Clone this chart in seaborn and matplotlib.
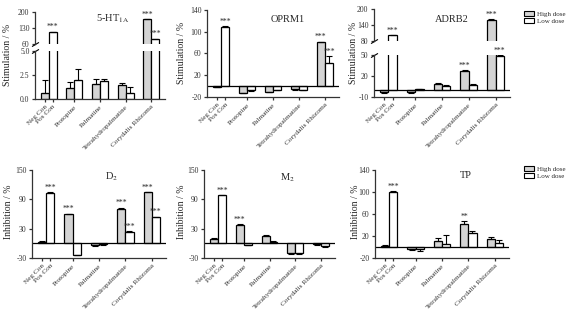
import matplotlib
matplotlib.use("Agg")
import matplotlib.pyplot as plt
from matplotlib.patches import Patch
import pandas as pd
import seaborn as sns

# categories (Control group: high = Neg Con, low = Pos Con)
groups = ["Control", "Protopine", "Palmatine", "Tetrahydropalmatine", "Corydalis Rhizoma"]
tick_labels = ["Neg Con", "Pos Con", "Protopine", "Palmatine",
               "Tetrahydropalmatine", "Corydalis Rhizoma"]
doses = ["High dose", "Low dose"]

# 5-HT1A (stimulation)
ht1a_high = [0.6, 1.1, 1.6, 1.5, 169]
ht1a_high_err = [1.4, 0.7, 0.5, 0.2, 1]
ht1a_low = [112, 2.0, 1.9, 0.6, 82]
ht1a_low_err = [2, 1.1, 0.15, 0.7, 2]
ht1a_high_sig = ["", "", "", "", "***"]
ht1a_low_sig = ["***", "", "", "", "***"]

# OPRM1 (stimulation)
oprm1_high = [-1, -12, -10, -6, 81]
oprm1_high_err = [0.5, 1, 1, 1, 1]
oprm1_low = [109, -8, -7, -7, 42]
oprm1_low_err = [1, 1, 1, 1, 13]
oprm1_high_sig = ["", "", "", "", "***"]
oprm1_low_sig = ["***", "", "", "", "***"]

# ADRB2 (stimulation)
adrb2_high = [-3, -3, 8, 27, 160]
adrb2_high_err = [1, 1, 1.5, 1.5, 1]
adrb2_low = [102, 1, 6, 7, 48]
adrb2_low_err = [1, 0.5, 1, 1, 1.5]
adrb2_high_sig = ["", "", "", "***", "***"]
adrb2_low_sig = ["***", "", "", "", "***"]

# D2 (inhibition)
d2_high = [2, 59, -3, 70, 104]
d2_high_err = [3, 1.5, 2.5, 3, 1]
d2_low = [103, -23, -2, 23, 53]
d2_low_err = [1, 1.5, 1, 1.5, 1.5]
d2_high_sig = ["", "***", "", "***", "***"]
d2_low_sig = ["***", "", "", "***", "***"]

# M2 (inhibition)
m2_high = [9, 38, 15, -19, -2]
m2_high_err = [2, 1.5, 2, 2, 1]
m2_low = [98, -3, 2, -19, -6]
m2_low_err = [1, 1, 2, 2, 1]
m2_high_sig = ["", "***", "", "", ""]
m2_low_sig = ["***", "", "", "", ""]

# TP (inhibition)
tp_high = [2, -3, 11, 42, 14]
tp_high_err = [1, 3, 5, 5, 5]
tp_low = [100, -4, 6, 25, 7]
tp_low_err = [1, 4, 15, 5, 6]
tp_high_sig = ["", "", "", "**", ""]
tp_low_sig = ["***", "", "", "", ""]

palette = {"High dose": "#d4d4d4", "Low dose": "white"}

sns.set_style("ticks")
plt.rcParams["font.family"] = ["Liberation Serif", "DejaVu Serif"]
plt.rcParams["mathtext.fontset"] = "stix"
plt.rcParams["axes.linewidth"] = 0.9
plt.rcParams["xtick.major.width"] = 0.9
plt.rcParams["ytick.major.width"] = 0.9
plt.rcParams["xtick.major.size"] = 2.5
plt.rcParams["ytick.major.size"] = 2.5
plt.rcParams["xtick.major.pad"] = 1.2
plt.rcParams["ytick.major.pad"] = 1.5
plt.rcParams["xtick.color"] = "#333333"
plt.rcParams["ytick.color"] = "#333333"
plt.rcParams["axes.edgecolor"] = "#333333"

W, H = 575, 314
fig = plt.figure(figsize=(W / 100, H / 100), dpi=100)


def px_axes(left, right, top, bottom):
    return fig.add_axes([left / W, 1 - bottom / H, (right - left) / W, (bottom - top) / H])


def draw_bars(ax, high, low, high_err, low_err, high_sig, low_sig, ylim, ticks, ticklabels=None):
    df = pd.DataFrame({
        "group": groups * 2,
        "dose": [doses[0]] * len(groups) + [doses[1]] * len(groups),
        "value": high + low,
    })
    sns.barplot(data=df, x="group", y="value", hue="dose", order=groups, hue_order=doses,
                palette=palette, edgecolor="black", linewidth=0.9, width=0.62,
                errorbar=None, legend=False, ax=ax)
    ax.set_ylim(*ylim)
    if ylim[0] < 0:
        ax.axhline(0, color="black", lw=0.9, zorder=2)
    for cont, vals, errs, sigs in zip(ax.containers, [high, low], [high_err, low_err],
                                      [high_sig, low_sig]):
        for bar, v, e, s in zip(cont, vals, errs, sigs):
            x = bar.get_x() + bar.get_width() / 2
            yerr = [[0], [e]] if v >= 0 else [[e], [0]]
            ax.errorbar(x, v, yerr=yerr, fmt="none", ecolor="black", elinewidth=0.8,
                        capsize=2.4, capthick=0.8, zorder=3)
            if s:
                ax.annotate(s, (x, v + e), xytext=(0, 0.3), textcoords="offset points",
                            ha="center", va="bottom", fontsize=5.5)
    ax.set_yticks(ticks)
    ax.set_yticklabels(ticklabels if ticklabels else [str(t) for t in ticks], fontsize=5.5)
    ax.set_xlabel("")
    ax.set_ylabel("")
    c0 = [b.get_x() + b.get_width() / 2 for b in (ax.containers[0][0], ax.containers[1][0])]
    ax.set_xticks(c0 + [1, 2, 3, 4])
    ax.set_xticklabels(tick_labels, rotation=45, ha="right", rotation_mode="anchor", fontsize=5.2)
    sns.despine(ax=ax)


def break_mark(ax, y):
    ax.plot([0], [y], transform=ax.transAxes, marker=[(-1, -0.6), (1, 0.6)], markersize=5,
            mec="black", mew=0.8, clip_on=False, linestyle="none")


def broken_panel(left, right, upper_px, lower_px, data, up_lim, up_ticks, lo_lim, lo_ticks,
                 lo_labels=None):
    ax_up = px_axes(left, right, *upper_px)
    ax_lo = px_axes(left, right, *lower_px)
    draw_bars(ax_up, *data, up_lim, up_ticks)
    draw_bars(ax_lo, *data, lo_lim, lo_ticks, lo_labels)
    ax_up.spines["bottom"].set_visible(False)
    ax_up.tick_params(axis="x", bottom=False, labelbottom=False)
    break_mark(ax_up, 0)
    break_mark(ax_lo, 1)
    return ax_up, ax_lo


# top row
broken_panel(35, 165, (12, 44), (51, 99),
             (ht1a_high, ht1a_low, ht1a_high_err, ht1a_low_err, ht1a_high_sig, ht1a_low_sig),
             (60, 200), [60, 130, 200], (0, 5), [0, 2.5, 5], ["0.0", "2.5", "5.0"])

ax = px_axes(207, 339, 10, 97)
draw_bars(ax, oprm1_high, oprm1_low, oprm1_high_err, oprm1_low_err, oprm1_high_sig,
          oprm1_low_sig, (-20, 140), [-20, 20, 60, 100, 140])

broken_panel(374, 510, (9, 41), (55, 97),
             (adrb2_high, adrb2_low, adrb2_high_err, adrb2_low_err, adrb2_high_sig, adrb2_low_sig),
             (80, 200), [80, 140, 200], (-10, 50), [-10, 20, 50])

# bottom row
ax = px_axes(32, 166, 170, 258)
draw_bars(ax, d2_high, d2_low, d2_high_err, d2_low_err, d2_high_sig, d2_low_sig,
          (-30, 150), [-30, 30, 90, 150])

ax = px_axes(204, 335, 170, 258)
draw_bars(ax, m2_high, m2_low, m2_high_err, m2_low_err, m2_high_sig, m2_low_sig,
          (-30, 150), [-30, 30, 90, 150])

ax = px_axes(375, 509, 170, 258)
draw_bars(ax, tp_high, tp_low, tp_high_err, tp_low_err, tp_high_sig, tp_low_sig,
          (-20, 140), [-20, 20, 60, 100, 140])

# titles
titles = [("5-HT$_\\mathrm{1A}$", 113, 19), ("OPRM1", 288, 19), ("ADRB2", 452, 19),
          ("D$_\\mathrm{2}$", 112, 177), ("M$_\\mathrm{2}$", 287, 178), ("TP", 466, 176)]
for t, x, y in titles:
    fig.text(x / W, 1 - y / H, t, ha="center", va="center", fontsize=7.5)

# y labels
ylabels = [("Stimulation / %", 8, 55), ("Stimulation / %", 181, 53), ("Stimulation / %", 353, 53),
           ("Inhibition / %", 9, 212), ("Inhibition / %", 182, 212), ("Inhibition / %", 355, 212)]
for t, x, y in ylabels:
    fig.text(x / W, 1 - y / H, t, ha="center", va="center", rotation=90, fontsize=7)

# legends
handles = [Patch(facecolor=palette[d], edgecolor="black", linewidth=0.8) for d in doses]
for ytop in (11, 166):
    fig.legend(handles, doses, loc="upper left", bbox_to_anchor=(524 / W, 1 - ytop / H),
               frameon=False, fontsize=5, handlelength=1.4, handleheight=0.8,
               handletextpad=0.5, labelspacing=0.1, borderaxespad=0, borderpad=0)

fig.savefig("out.png", dpi=100)
